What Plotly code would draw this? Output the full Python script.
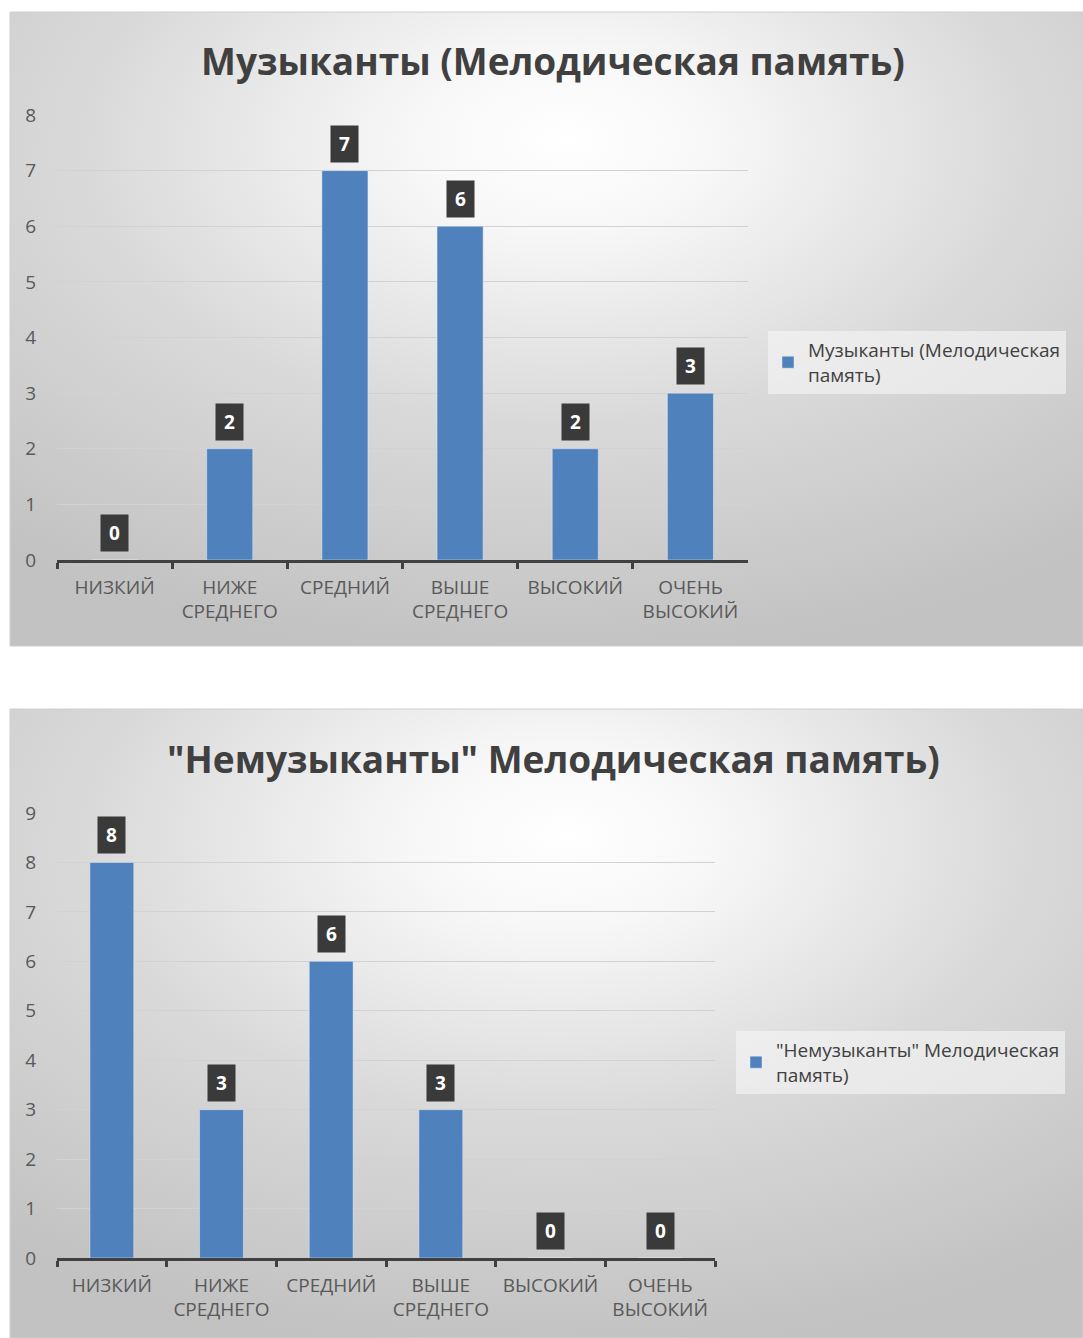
import base64
import plotly.graph_objects as go

W, H = 1083, 1338

categories = ["НИЗКИЙ", "НИЖЕ<br>СРЕДНЕГО", "СРЕДНИЙ", "ВЫШЕ<br>СРЕДНЕГО", "ВЫСОКИЙ", "ОЧЕНЬ<br>ВЫСОКИЙ"]
musicians = [0, 2, 7, 6, 2, 3]
non_musicians = [8, 3, 6, 3, 0, 0]
title1 = "Музыканты (Мелодическая память)"
title2 = "\"Немузыканты\" Мелодическая память)"
legend1 = "Музыканты (Мелодическая<br>память)"
legend2 = "\"Немузыканты\" Мелодическая<br>память)"

BLUE = "#4f81bd"
TXT = "#595959"
FONT = "Open Sans"


def px_x(v):
    return v / W


def px_y(v):
    return 1 - v / H


svg = (
    '<svg xmlns="http://www.w3.org/2000/svg" width="1000" height="600" viewBox="0 0 1000 600" preserveAspectRatio="none">'
    '<defs><radialGradient id="g" cx="0.5" cy="0.22" r="0.8" fx="0.52" fy="0.2" gradientUnits="objectBoundingBox">'
    '<stop offset="0" stop-color="#ffffff"/>'
    '<stop offset="0.18" stop-color="#f7f7f7"/>'
    '<stop offset="0.55" stop-color="#d9d9d9"/>'
    '<stop offset="1" stop-color="#c2c2c2"/>'
    '</radialGradient></defs>'
    '<rect x="0" y="0" width="1000" height="600" fill="url(#g)"/></svg>'
)
bg_src = "data:image/svg+xml;base64," + base64.b64encode(svg.encode("utf-8")).decode("ascii")

fig = go.Figure()

fig.add_trace(go.Bar(x=categories, y=musicians, name=legend1, marker_color=BLUE,
                     xaxis="x", yaxis="y", legend="legend", showlegend=True))
fig.add_trace(go.Bar(x=categories, y=non_musicians, name=legend2, marker_color=BLUE,
                     xaxis="x2", yaxis="y2", legend="legend2", showlegend=True))

# chart boxes (pixels)
box1 = (10, 12, W, 646)
box2 = (10, 709, W, H)

images = []
shapes = []
for (x0, y0, x1, y1) in (box1, box2):
    images.append(dict(source=bg_src, xref="paper", yref="paper", x=px_x(x0), y=px_y(y0),
                       sizex=(x1 - x0) / W, sizey=(y1 - y0) / H, sizing="stretch",
                       xanchor="left", yanchor="top", layer="below"))
    shapes.append(dict(type="rect", xref="paper", yref="paper", x0=px_x(x0), x1=px_x(x1),
                       y0=px_y(y1), y1=px_y(y0), line=dict(color="#cfcfcf", width=1),
                       fillcolor="rgba(0,0,0,0)", layer="below"))

annotations = []
for ax, vals in (("", musicians), ("2", non_musicians)):
    for c, v in zip(categories, vals):
        annotations.append(dict(x=c, y=v, xref="x" + ax, yref="y" + ax, text="<b>%d</b>" % v,
                                showarrow=False, yanchor="bottom", yshift=8,
                                font=dict(family=FONT, size=19, color="white"),
                                bgcolor="#3a3a3a", width=25, height=34, valign="middle"))

annotations.append(dict(x=px_x(553), y=px_y(60), xref="paper", yref="paper", text="<b>%s</b>" % title1,
                        showarrow=False, font=dict(family=FONT, size=37, color="#404040"),
                        xanchor="center", yanchor="middle"))
annotations.append(dict(x=px_x(553), y=px_y(758), xref="paper", yref="paper", text="<b>%s</b>" % title2,
                        showarrow=False, font=dict(family=FONT, size=37, color="#404040"),
                        xanchor="center", yanchor="middle"))

xcommon = dict(type="category", showgrid=False, showline=True, linecolor="#404040", linewidth=2.5,
               ticks="outside", tickson="boundaries", ticklen=6, tickwidth=2.5, tickcolor="#404040",
               ticklabelstandoff=8,
               tickfont=dict(family=FONT, size=19, color=TXT), fixedrange=True, automargin=False)
ycommon = dict(showgrid=True, gridcolor="#d2d2d2", gridwidth=1, zeroline=False, showline=False,
               dtick=1, ticks="", ticklabelstandoff=20,
               tickfont=dict(family=FONT, size=19, color=TXT), fixedrange=True, automargin=False)

fig.update_layout(
    width=W, height=H,
    margin=dict(l=0, r=0, t=0, b=0, autoexpand=False),
    paper_bgcolor="white", plot_bgcolor="rgba(0,0,0,0)",
    bargap=0.6,
    font=dict(family=FONT, color=TXT),
    xaxis=dict(domain=[px_x(57), px_x(748)], anchor="y", **xcommon),
    yaxis=dict(domain=[px_y(560), px_y(115)], range=[0, 8], anchor="x", **ycommon),
    xaxis2=dict(domain=[px_x(57), px_x(715)], anchor="y2", **xcommon),
    yaxis2=dict(domain=[px_y(1258), px_y(813)], range=[0, 9], anchor="x2", **ycommon),
    legend=dict(x=px_x(768), y=px_y(331), xanchor="left", yanchor="top",
                bgcolor="rgba(246,246,246,0.6)", font=dict(family=FONT, size=19, color="#404040"),
                itemwidth=30, tracegroupgap=0),
    legend2=dict(x=px_x(736), y=px_y(1031), xanchor="left", yanchor="top",
                 bgcolor="rgba(246,246,246,0.6)", font=dict(family=FONT, size=19, color="#404040"),
                 itemwidth=30, tracegroupgap=0),
    images=images,
    shapes=shapes,
    annotations=annotations,
)

fig.write_html("out.html", config={"displayModeBar": False},
               post_script="document.body.style.margin='0';document.body.style.padding='0';")
